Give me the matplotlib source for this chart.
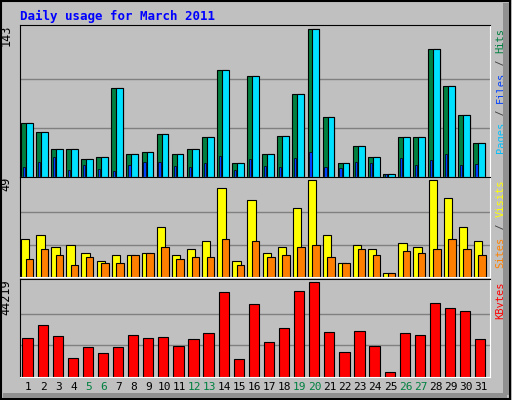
import matplotlib
matplotlib.use('Agg')
import matplotlib.pyplot as plt
import matplotlib.transforms as mtransforms
import numpy as np

days = list(range(1, 32))
weekend = [5, 6, 12, 13, 19, 20, 26, 27]
hits = [52, 44, 27, 27, 17, 19, 86, 22, 24, 42, 22, 27, 39, 104, 14, 98, 22, 40, 80, 143,
        58, 14, 30, 19, 3, 39, 39, 124, 88, 60, 33]
files = hits
pages = [10, 15, 19, 7, 12, 8, 6, 12, 15, 15, 11, 10, 14, 20, 7, 17, 11, 10, 18, 24,
         10, 9, 15, 14, 3, 18, 12, 16, 22, 12, 13]
sites = [19, 21, 15, 16, 12, 8, 11, 11, 12, 25, 11, 14, 18, 45, 8, 39, 12, 15, 35, 49,
         21, 7, 16, 14, 2, 17, 15, 49, 40, 25, 18]
visits = [9, 14, 11, 6, 10, 7, 7, 11, 12, 15, 9, 10, 10, 19, 6, 18, 10, 11, 15, 16,
          10, 7, 14, 11, 2, 13, 12, 14, 19, 14, 11]
kbytes = [17980, 24300, 18950, 8750, 14090, 11180, 14090, 19440, 17980, 18470, 14580,
          17490, 20410, 39360, 8260, 34010, 16040, 22840, 39850, 44219, 20890, 11660,
          21380, 14580, 2430, 20410, 19440, 34500, 32070, 30610, 17490]

BG = '#C0C0C0'
font = 'DejaVu Sans Mono'
x = np.array(days)

fig = plt.figure(figsize=(5.12, 4.0), dpi=100, facecolor=BG)
fig.patches.append(plt.Rectangle((0.002, 0.003), 0.995, 0.994, transform=fig.transFigure,
                                 fill=False, edgecolor='black', lw=1.5))
fig.patches.append(plt.Rectangle((0.982, 0.012), 0.012, 0.98, transform=fig.transFigure,
                                 color='#909090', lw=0))
fig.patches.append(plt.Rectangle((0.006, 0.006), 0.985, 0.012, transform=fig.transFigure,
                                 color='#909090', lw=0))

def setup(ax, top, label):
    ax.set_facecolor(BG)
    ax.set_xlim(0.45, 31.6)
    ax.set_ylim(0, top * 1.03)
    for g in (top / 3, top * 2 / 3):
        ax.axhline(g, color='#808080', lw=1, zorder=0)
    ax.set_xticks([])
    ax.set_yticks([])
    for s in ax.spines.values():
        s.set_color('white')
    ax.spines['left'].set_color('black')
    ax.spines['top'].set_color('black')
    ax.text(-0.03, 1.0, label, transform=ax.transAxes, rotation=90, ha='center', va='top',
            family=font, fontsize=8.5)

ax1 = fig.add_axes([20 / 512, 1 - 177 / 400, 470 / 512, 152 / 400])
setup(ax1, 143, '143')
ax1.bar(x - 0.12, hits, width=0.75, color='#008040', edgecolor='black', lw=0.8)
ax1.bar(x + 0.06, files, width=0.45, color='#00E0FF', edgecolor='black', lw=0.8)
ax1.bar(x - 0.3, pages, width=0.15, color='#0040FF', edgecolor='black', lw=0.5)

ax2 = fig.add_axes([20 / 512, 1 - 277 / 400, 470 / 512, 100 / 400])
setup(ax2, 49, '49')
ax2.bar(x - 0.2, sites, width=0.55, color='#FFFF00', edgecolor='black', lw=0.8)
ax2.bar(x + 0.07, visits, width=0.5, color='#FF8000', edgecolor='black', lw=0.8)

ax3 = fig.add_axes([20 / 512, 1 - 377 / 400, 470 / 512, 98 / 400])
setup(ax3, 44219, '44219')
ax3.bar(x - 0.05, kbytes, width=0.68, color='#FF0000', edgecolor='black', lw=0.8)
for d in days:
    ax3.text(d, -0.05, str(d), transform=ax3.get_xaxis_transform(), ha='center', va='top',
             family=font, fontsize=8, color='#008040' if d in weekend else 'black')

# right-hand labels, read bottom to top, stacked downward from the panel top
FS = 7.5
CHAR = FS * 0.602  # points per monospace char

def side_text(ax, parts):
    total = sum(len(t) for t, _ in parts) * CHAR
    y = -total
    for txt, col in parts:
        tr = mtransforms.offset_copy(ax.transAxes, fig=fig, x=0, y=y - 2, units='points')
        ax.text(1.022, 1.0, txt, transform=tr, rotation=90, ha='center',
                va='baseline', rotation_mode='anchor', family=font, fontsize=FS, color=col)
        y += len(txt) * CHAR

def side_text(ax, parts):
    total = sum(len(t) for t, _ in parts) * CHAR
    y = -total - 2
    for txt, col in parts:
        tr = mtransforms.offset_copy(ax.transAxes, fig=fig, x=4, y=y, units='points')
        ax.text(1.0, 1.0, txt, transform=tr, rotation=90, ha='left',
                va='top', rotation_mode='anchor', family=font, fontsize=FS, color=col)
        y += len(txt) * CHAR

side_text(ax1, [('Pages', '#00C0FF'), (' / ', '#404040'), ('Files', '#0040FF'),
                (' / ', '#404040'), ('Hits', '#008040')])
side_text(ax2, [('Sites', '#FF8000'), (' / ', '#404040'), ('Visits', '#FFFF00')])
side_text(ax3, [('KBytes', '#FF0000')])

fig.text(20 / 512, 1 - 16 / 400, 'Daily usage for March 2011', color='#0000FF',
         family=font, fontweight='bold', fontsize=9, va='center')

fig.savefig('out.png', dpi=100, facecolor=BG)
